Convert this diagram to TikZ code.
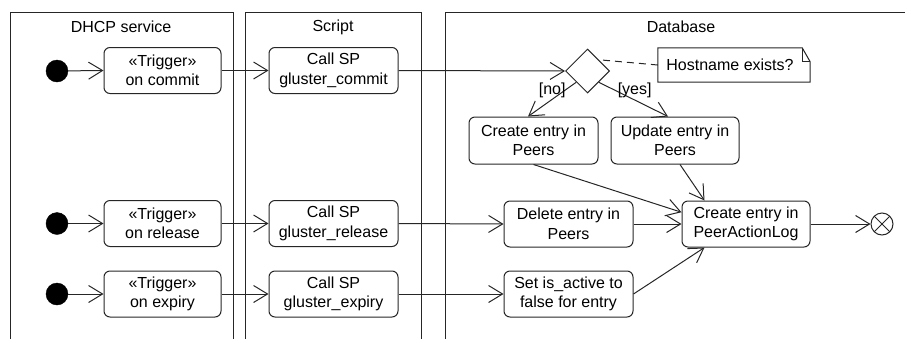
\documentclass[tikz,border=0pt]{standalone}
\usepackage{fontspec}
\setmainfont{Liberation Sans}
\usetikzlibrary{arrows.meta,shapes.geometric,calc}

\tikzset{
  ink/.style={draw=black!85, line width=1pt},
  lane/.style={ink},
  lanetitle/.style={font=\fontsize{16}{19.5}\selectfont, inner sep=0pt},
  act/.style={ink, rectangle, rounded corners=6pt, minimum height=46pt,
    inner sep=0pt, align=center, font=\fontsize{16}{19.5}\selectfont},
  startdot/.style={circle, fill=black, draw=black, minimum size=22pt, inner sep=0pt},
  enddot/.style={ink, circle, minimum size=22pt, inner sep=0pt,
    path picture={\draw[black!85, line width=1pt]
      (path picture bounding box.north west) -- (path picture bounding box.south east)
      (path picture bounding box.north east) -- (path picture bounding box.south west);}},
  decision/.style={ink, diamond, minimum width=44pt, minimum height=44pt, inner sep=0pt},
  flow/.style={ink, -{Straight Barb[length=14pt, width=17pt]}},
  guard/.style={font=\fontsize{16}{19.5}\selectfont, inner sep=0pt},
  notetext/.style={font=\fontsize{16}{19.5}\selectfont, inner sep=0pt,
    minimum width=144pt, minimum height=34pt},
}

\begin{document}
\begin{tikzpicture}[x=1pt, y=-1pt]
  \useasboundingbox (0,0) rectangle (905,338);

  % swimlanes
  \draw[lane] (10,340) -- (10,12) -- (233,12) -- (233,340);
  \draw[lane] (245,340) -- (245,12) -- (421,12) -- (421,340);
  \draw[lane] (445,340) -- (445,12) -- (906,12);
  \node[lanetitle] (ldhcp) at (121,27) {DHCP service};
  \node[lanetitle] (lscript) at (333,27) {Script};
  \node[lanetitle] (ldb) at (681,27) {Database};

  % DHCP service lane
  \node[startdot] (i1) at (57,71) {};
  \node[startdot] (i2) at (57,223.5) {};
  \node[startdot] (i3) at (57,294) {};
  \node[act, minimum width=117pt] (t1) at (162.5,70.5) {«Trigger»\\on commit};
  \node[act, minimum width=117pt] (t2) at (162.5,223.5) {«Trigger»\\on release};
  \node[act, minimum width=117pt] (t3) at (162.5,294) {«Trigger»\\on expiry};

  % Script lane
  \node[act, minimum width=129pt] (c1) at (333.5,70.5) {Call SP\\gluster\_commit};
  \node[act, minimum width=129pt] (c2) at (333.5,223.5) {Call SP\\gluster\_release};
  \node[act, minimum width=129pt] (c3) at (333.5,294) {Call SP\\gluster\_expiry};

  % Database lane
  \node[decision] (dec) at (587.5,71) {};
  \node[notetext] (note) at (730,65) {Hostname exists?};
  \draw[ink] (note.south west) -- (note.north west) -- (note.north east)
    -- ($(note.north east)+(8,14)$) -- ($(note.south east)+(8,0)$) -- cycle;
  \draw[ink] (note.north east) -- ($(note.north east)+(0,14)$) -- ($(note.north east)+(8,14)$);
  \draw[ink, dash pattern=on 7pt off 5pt] (note.west) -- ($(dec.north)!0.5!(dec.east)$);

  \node[act, minimum width=129pt, minimum height=47pt] (cep) at (533.5,140.5) {Create entry in\\Peers};
  \node[act, minimum width=128pt, minimum height=47pt] (uep) at (675,140.5) {Update entry in\\Peers};
  \node[act, minimum width=129pt] (del) at (568.5,224) {Delete entry in\\Peers};
  \node[act, minimum width=129pt] (set) at (568.5,294) {Set is\_active to\\false for entry};
  \node[act, minimum width=128pt] (pal) at (746,224) {Create entry in\\PeerActionLog};
  \node[enddot] (fin) at (882,224) {};

  % control flow
  \draw[flow] (i1) -- (t1.west);
  \draw[flow] (i2) -- (t2.west);
  \draw[flow] (i3) -- (t3.west);
  \draw[flow] (t1.east) -- (c1.west);
  \draw[flow] (t2.east) -- (c2.west);
  \draw[flow] (t3.east) -- (c3.west);
  \draw[flow] (c1.east) -- (dec.west);
  \draw[flow] (c2.east) -- (del.west);
  \draw[flow] (c3.east) -- (set.west);
  \draw[flow] ($(dec.west)!0.5!(dec.south)$) -- ($(cep.north)+(-5.5,0)$)
    node[guard, pos=0.23, xshift=-13pt] (gno) {[no]};
  \draw[flow] ($(dec.east)!0.5!(dec.south)$) -- ($(uep.north)+(-7,0)$)
    node[guard, pos=0.23, xshift=20pt] (gyes) {[yes]};
  \draw[flow] (cep.south) -- ($(pal.north west)!0.5!(pal.west)$);
  \draw[flow] ($(uep.south)+(5,0)$) -- ($(pal.north west)+(23,0)$);
  \draw[flow] (del.east) -- (pal.west);
  \draw[flow] (set.east) -- ($(pal.south west)+(23,0)$);
  \draw[flow] (pal.east) -- (fin.west);
\end{tikzpicture}
\end{document}
